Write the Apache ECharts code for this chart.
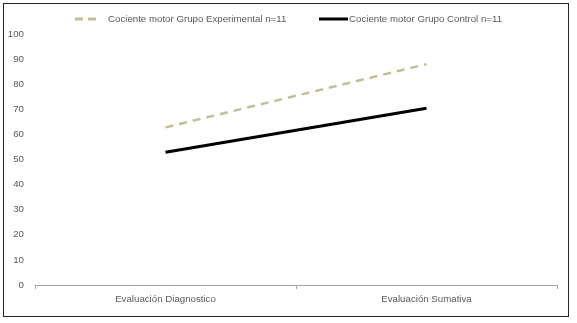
<!DOCTYPE html>
<html>
<head>
<meta charset="utf-8">
<script src="https://cdn.jsdelivr.net/npm/echarts@6/dist/echarts.min.js"></script>
<style>
  html, body { margin: 0; padding: 0; background: #fff; }
  #chart { position: absolute; left: 0; top: 0; width: 577px; height: 323px; }
  #frame { position: absolute; left: 3px; top: 3px; width: 564px; height: 312px;
           border: 1px solid #262626; pointer-events: none; }
</style>
</head>
<body>
<div id="chart"></div>
<div id="frame"></div>
<script>
var categories = ['Evaluación Diagnostico', 'Evaluación Sumativa'];
var experimental = [62.8, 88];
var control = [52.9, 70.4];
var seriesNames = ['Cociente motor Grupo Experimental n=11', 'Cociente motor Grupo Control n=11'];

var chart = echarts.init(document.getElementById('chart'));
var txt = { fontFamily: 'Liberation Sans', fontSize: 9.7, color: '#595959' };

chart.setOption({
    animation: false,
    grid: { left: 35, right: 20, top: 34, bottom: 38 },
    legend: [
        {
            top: 9,
            left: 70,
            itemWidth: 21,
            itemHeight: 3,
            textStyle: Object.assign({ padding: [0, 0, 0, 7] }, txt),
            data: [{ name: seriesNames[0], icon: 'path://M0,0h8v3h-8z M13,0h8v3h-8z' }]
        },
        {
            top: 9,
            left: 314,
            itemWidth: 29,
            itemHeight: 3,
            textStyle: Object.assign({ padding: [0, 0, 0, -4] }, txt),
            data: [{ name: seriesNames[1], icon: 'rect' }]
        }
    ],
    xAxis: {
        type: 'category',
        data: categories,
        boundaryGap: true,
        axisLine: { lineStyle: { color: '#a6a6a6', width: 1 } },
        axisTick: { show: true, length: 4, lineStyle: { color: '#a6a6a6' } },
        axisLabel: Object.assign({ margin: 9 }, txt)
    },
    yAxis: {
        type: 'value',
        min: 0,
        max: 100,
        interval: 10,
        splitLine: { show: false },
        axisLine: { show: false },
        axisTick: { show: false },
        axisLabel: Object.assign({ margin: 11 }, txt)
    },
    series: [
        {
            name: seriesNames[0],
            type: 'line',
            data: experimental,
            symbol: 'none',
            color: '#c4bd97',
            lineStyle: { color: '#c4bd97', width: 2.5, type: [8, 6] }
        },
        {
            name: seriesNames[1],
            type: 'line',
            data: control,
            symbol: 'none',
            color: '#000',
            lineStyle: { color: '#000', width: 3 }
        }
    ]
});
</script>
</body>
</html>
